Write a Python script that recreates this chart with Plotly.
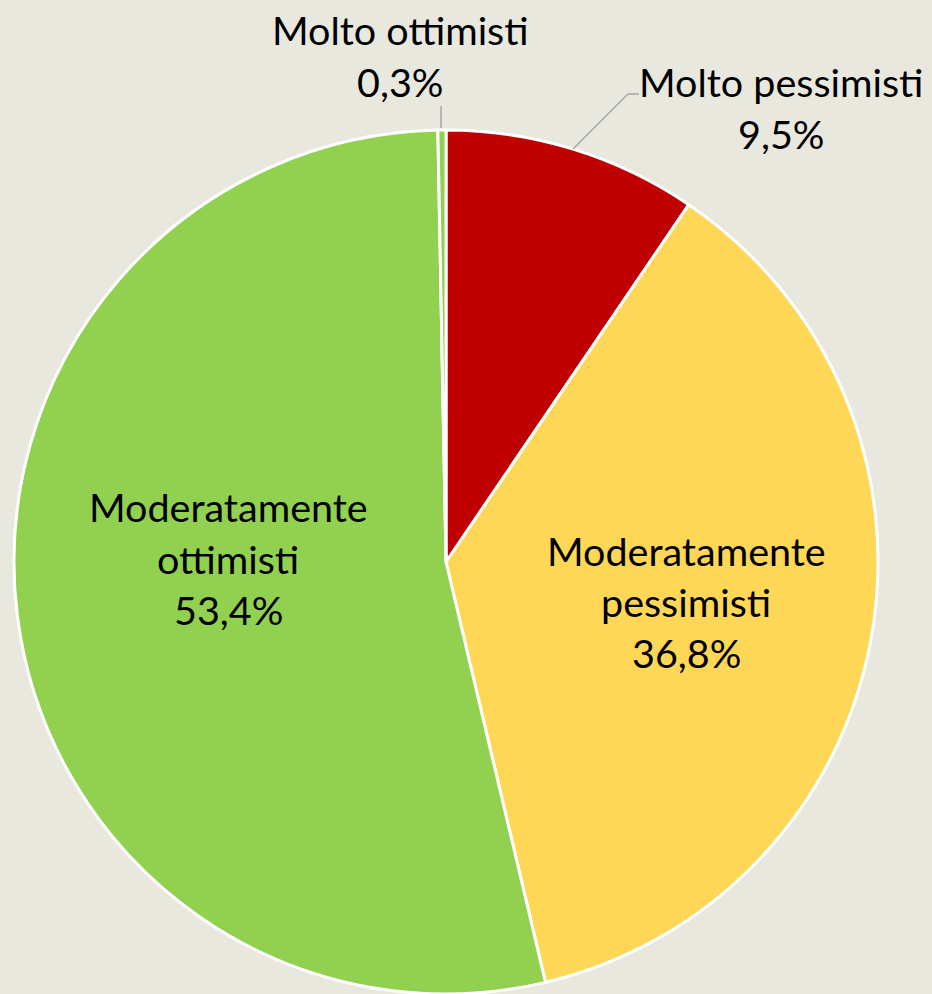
import plotly.graph_objects as go

labels = ["Molto pessimisti", "Moderatamente pessimisti", "Moderatamente ottimisti", "Molto ottimisti"]
values = [9.5, 36.8, 53.4, 0.3]
colors = ["#C00000", "#FFD757", "#92D050", "#92D050"]

# label text lines (Italian, comma decimals)
label_lines = [
    ["Molto pessimisti", "9,5%"],
    ["Moderatamente", "pessimisti", "36,8%"],
    ["Moderatamente", "ottimisti", "53,4%"],
    ["Molto ottimisti", "0,3%"],
]

W, H = 932, 994
BG = "#E9E8DF"
FONT = "Lato"
FS = 39.5

fig = go.Figure(go.Pie(
    labels=labels, values=values, sort=False, direction="clockwise", rotation=0,
    marker=dict(colors=colors, line=dict(color="white", width=3)),
    textinfo="none", hoverinfo="label+percent", showlegend=False,
    domain=dict(x=[13 / W, 879 / W], y=[0, 1 - 130 / H]),
))

# label anchor centres in pixels (x, y of first line), line step
anchors = [(781, 82), (686, 550), (228, 507), (400, 30)]
step = 51
ann = []
for lines, (ax, ay) in zip(label_lines, anchors):
    for i, t in enumerate(lines):
        ann.append(dict(x=ax / W, y=1 - (ay + i * step) / H, xref="paper", yref="paper",
                        text=t, showarrow=False, xanchor="center", yanchor="middle",
                        font=dict(family=FONT, size=FS, color="black")))

shapes = [
    dict(type="line", xref="paper", yref="paper", x0=441 / W, y0=1 - 106 / H, x1=441 / W, y1=1 - 128 / H,
         line=dict(color="#A6A6A6", width=1.5)),
    dict(type="line", xref="paper", yref="paper", x0=573 / W, y0=1 - 149 / H, x1=628 / W, y1=1 - 94 / H,
         line=dict(color="#A6A6A6", width=1.5)),
    dict(type="line", xref="paper", yref="paper", x0=628 / W, y0=1 - 94 / H, x1=639 / W, y1=1 - 94 / H,
         line=dict(color="#A6A6A6", width=1.5)),
]

fig.update_layout(
    width=W, height=H, paper_bgcolor=BG, plot_bgcolor=BG,
    margin=dict(l=0, r=0, t=0, b=0, autoexpand=False),
    annotations=ann, shapes=shapes,
)
fig.write_html("out.html", config={"displayModeBar": False},
               post_script="document.body.style.margin='0';document.body.style.background='%s';" % BG)
